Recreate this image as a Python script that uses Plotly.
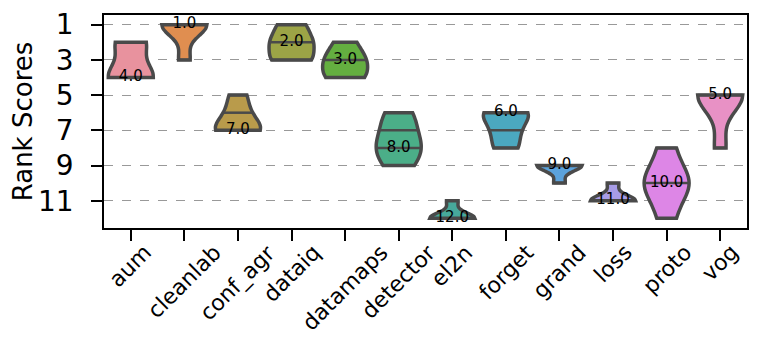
import numpy as np
import plotly.graph_objects as go

# methods on the x axis
methods = ["aum", "cleanlab", "conf_agr", "dataiq", "datamaps", "detector",
           "el2n", "forget", "grand", "loss", "proto", "vog"]

aum = [2, 2, 4, 4, 4]
cleanlab = [1, 1, 1, 1, 3]
conf_agr = [5, 6, 7, 7, 7]
dataiq = [1, 1, 2, 2, 2, 3, 3, 3]
datamaps = [2, 3, 3, 4, 4]
detector = [6, 6, 7, 7, 8, 8, 8, 9, 9]
el2n = [11, 12, 12, 12, 12]
forget = [6, 6, 6, 6, 7, 7, 8, 8]
grand = [9, 9, 9, 9, 10]
loss = [10, 11, 11, 11, 11]
proto = [8, 10, 10, 10, 12]
vog = [5, 5, 5, 5, 8]

# overall rank printed on each violin
overall_rank = [4, 1, 7, 2, 3, 8, 12, 6, 9, 11, 10, 5]

samples = [aum, cleanlab, conf_agr, dataiq, datamaps, detector,
           el2n, forget, grand, loss, proto, vog]

colors = ["#E8929E", "#E08E50", "#B99B4B", "#9CA446", "#64AF40", "#4BAE88",
          "#47A99B", "#4BA8C0", "#5BA2DC", "#A79CE6", "#DD86E6", "#E891C5"]

edge = "#4a4a4a"
vwidth = 0.84


def kde(t, vals, bw):
    t = np.atleast_1d(t)[:, None]
    return np.exp(-0.5 * ((t - vals[None, :]) / bw) ** 2).sum(axis=1)


fig = go.Figure()

for i, (name, vals) in enumerate(zip(methods, samples)):
    v = np.array(vals, dtype=float)
    bw = np.std(v, ddof=1) * len(v) ** (-1 / 5)  # scott's rule, like seaborn
    fig.add_trace(go.Violin(
        y=v, x0=i, name=name, bandwidth=bw, spanmode="hard",
        scalemode="width", width=vwidth, points=False,
        fillcolor=colors[i], opacity=1,
        line=dict(color=edge, width=3.5),
        hoverinfo="skip",
    ))

    # stick lines at every observation
    lo, hi = v.min(), v.max()
    n = int(np.ceil((hi - lo) / (bw / 3)))
    grid = np.linspace(lo, hi, n + 1)
    dmax = kde(grid, v, bw).max()
    xs, ys = [], []
    for u in np.unique(v):
        hw = kde(u, v, bw)[0] / dmax * vwidth / 2
        xs += [i - hw, i + hw, None]
        ys += [u, u, None]
    fig.add_trace(go.Scatter(x=xs, y=ys, mode="lines",
                             line=dict(color=edge, width=2.5),
                             hoverinfo="skip"))

fig.add_trace(go.Scatter(
    x=list(range(len(methods))), y=overall_rank, mode="text",
    text=[f"{r:.1f}" for r in overall_rank],
    textfont=dict(size=15, color="black"),
    hoverinfo="skip",
))

# rotated x labels, centred under their ticks (matplotlib style)
for i, name in enumerate(methods):
    fig.add_annotation(
        x=i, y=0, xref="x", yref="paper", text=name, showarrow=False,
        textangle=-45, xanchor="center", yanchor="top", yshift=-9,
        font=dict(size=22, color="black"),
    )

# page body has an 8px margin, so the figure is a bit smaller than the window
fig.update_layout(
    width=753, height=333,
    margin=dict(l=96, r=14, t=7, b=113, autoexpand=False),
    plot_bgcolor="white", paper_bgcolor="white",
    font=dict(family="DejaVu Sans", color="black"),
    showlegend=False,
    violinmode="overlay",
)

fig.update_xaxes(
    type="linear", range=[-0.5, 11.5], automargin=False,
    tickvals=list(range(len(methods))), showticklabels=False,
    ticks="outside", ticklen=11, tickwidth=1.5, tickcolor="black",
    showline=True, linecolor="black", linewidth=1.5, mirror=True,
    showgrid=False, zeroline=False,
)

fig.update_yaxes(
    range=[12.55, 0.45], automargin=False,
    tickvals=[1, 3, 5, 7, 9, 11], tickfont=dict(size=28),
    ticks="outside", ticklen=11, tickwidth=1.5, tickcolor="black",
    ticklabelstandoff=12,
    showline=True, linecolor="black", linewidth=1.5, mirror=True,
    showgrid=True, gridcolor="#999999", griddash="dash", gridwidth=1,
    zeroline=False,
    title=dict(text="Rank Scores", font=dict(size=26), standoff=8),
)

fig.write_html("out.html")
